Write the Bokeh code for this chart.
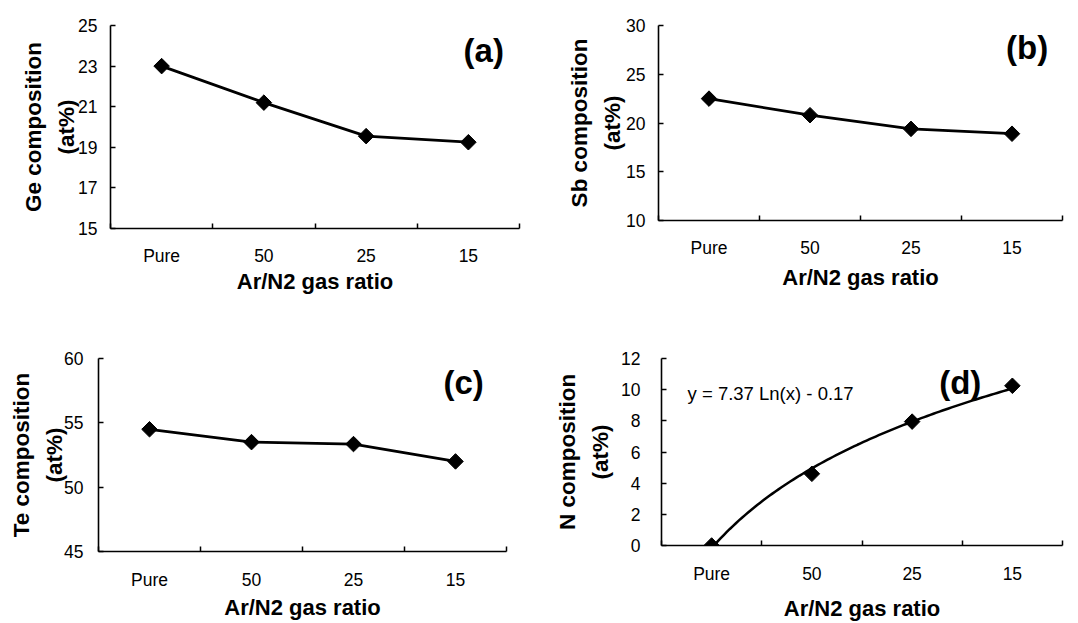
import numpy as np
from bokeh.plotting import figure
from bokeh.layouts import column, row
from bokeh.models import Range1d, FixedTicker, Label
from bokeh.embed import file_html
from bokeh.resources import INLINE

# ---- data ----
categories = ["Pure", "50", "25", "15"]
ge_values = [23.0, 21.2, 19.55, 19.25]
sb_values = [22.5, 20.8, 19.4, 18.9]
te_values = [54.5, 53.5, 53.35, 52.0]
n_values = [0.0, 4.6, 7.95, 10.25]

ge_ticks = [15, 17, 19, 21, 23, 25]
sb_ticks = [10, 15, 20, 25, 30]
te_ticks = [45, 50, 55, 60]
n_ticks = [0, 2, 4, 6, 8, 10, 12]

x_title = "Ar/N2 gas ratio"
FONT = "Liberation Sans"

xpos = list(range(1, len(categories) + 1))


def make_panel(w, h, bl, br, bt, bb, yticks, ylabel, ystand, xstand, xtstand, ytstand):
    p = figure(width=w, height=h, output_backend="svg", toolbar_location=None,
               x_range=Range1d(0.5, len(categories) + 0.5),
               y_range=Range1d(yticks[0], yticks[-1]),
               min_border_left=bl, min_border_right=br,
               min_border_top=bt, min_border_bottom=bb)
    p.frame_align = False
    p.outline_line_color = None
    p.grid.visible = False
    p.background_fill_color = "white"
    p.border_fill_color = "white"

    xa = p.xaxis[0]
    xa.ticker = FixedTicker(ticks=xpos, minor_ticks=[x - 0.5 for x in xpos] + [xpos[-1] + 0.5])
    xa.major_label_overrides = {x: c for x, c in zip(xpos, categories)}
    xa.major_tick_in = 0
    xa.major_tick_out = 0
    xa.minor_tick_in = 5
    xa.minor_tick_out = 0
    xa.minor_tick_line_color = "black"
    xa.minor_tick_line_width = 1.5
    xa.axis_line_color = "black"
    xa.axis_line_width = 1.6
    xa.major_label_text_font = FONT
    xa.major_label_text_font_size = "17.5px"
    xa.major_label_text_color = "black"
    xa.major_label_standoff = xstand
    xa.axis_label = x_title
    xa.axis_label_text_font = FONT
    xa.axis_label_text_font_style = "bold"
    xa.axis_label_text_font_size = "22px"
    xa.axis_label_text_color = "black"
    xa.axis_label_standoff = xtstand

    ya = p.yaxis[0]
    ya.ticker = FixedTicker(ticks=yticks, minor_ticks=[])
    ya.major_tick_in = 5
    ya.major_tick_out = 0
    ya.major_tick_line_color = "black"
    ya.major_tick_line_width = 1.5
    ya.axis_line_color = "black"
    ya.axis_line_width = 1.6
    ya.major_label_text_font = FONT
    ya.major_label_text_font_size = "17.5px"
    ya.major_label_text_color = "black"
    ya.major_label_standoff = ystand
    ya.axis_label = ylabel + "\n(at%)"
    ya.axis_label_text_font = FONT
    ya.axis_label_text_font_style = "bold"
    ya.axis_label_text_font_size = "22.5px"
    ya.axis_label_text_color = "black"
    ya.axis_label_text_line_height = 1.32
    ya.axis_label_standoff = ytstand
    return p


def panel_label(p, text, x, y):
    p.add_layout(Label(x=x, y=y, text=text, text_font=FONT, text_font_style="bold",
                       text_font_size="33px", text_align="center", text_baseline="middle",
                       text_color="black"))


LW = 2.8
MS = 11

# (a)
pa = make_panel(540, 300, 110, 21, 25, 72, ge_ticks, "Ge composition", 13, 17, 0, -4)
pa.line(xpos, ge_values, line_color="black", line_width=LW)
pa.scatter(xpos, ge_values, marker="square", angle=np.pi / 4, size=MS, color="black")
panel_label(pa, "(a)", 4.15, 23.77)

# (b)
pb = make_panel(538, 300, 118, 16, 25, 80, sb_ticks, "Sb composition", 13, 17, 4, -2)
pb.line(xpos, sb_values, line_color="black", line_width=LW)
pb.scatter(xpos, sb_values, marker="square", angle=np.pi / 4, size=MS, color="black")
panel_label(pb, "(b)", 4.15, 27.74)

# (c)
pc = make_panel(540, 323, 98, 34, 58, 72, te_ticks, "Te composition", 15, 18, 2, -6)
pc.line(xpos, te_values, line_color="black", line_width=LW)
pc.scatter(xpos, te_values, marker="square", angle=np.pi / 4, size=MS, color="black")
panel_label(pc, "(c)", 4.08, 58.15)

# (d) with logarithmic trendline fitted to the data
pd_ = make_panel(538, 323, 121, 16, 58, 77, n_ticks, "N composition", 21, 18, 9, 5)
slope, intercept = np.polyfit(np.log(xpos), n_values, 1)
xs = np.linspace(xpos[0], xpos[-1], 100)
pd_.line(xs, slope * np.log(xs) + intercept, line_color="black", line_width=2.5)
pd_.scatter(xpos, n_values, marker="square", angle=np.pi / 4, size=MS, color="black")
panel_label(pd_, "(d)", 3.48, 10.47)
pd_.add_layout(Label(x=0.76, y=9.77, text="y = 7.37 Ln(x) - 0.17", text_font=FONT,
                     text_font_size="18.5px", text_align="left", text_baseline="middle",
                     text_color="black"))

layout = column(row(pa, pb), row(pc, pd_))

open("out.html", "w").write(file_html(layout, INLINE))
